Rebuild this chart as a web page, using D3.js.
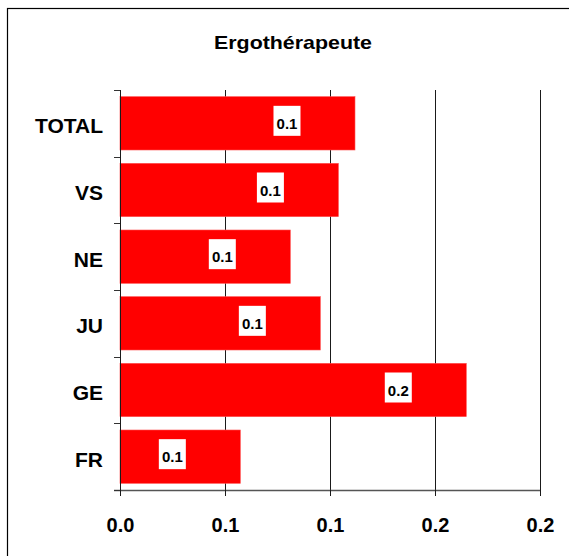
<!DOCTYPE html>
<html>
<head>
<meta charset="utf-8">
<script src="https://cdn.jsdelivr.net/npm/d3@7"></script>
<style>
  html, body { margin: 0; padding: 0; background: #fff; }
  svg { display: block; }
  text { font-family: "Liberation Sans", Arial, sans-serif; font-weight: bold; fill: #000; }
</style>
</head>
<body>
<svg id="chart" width="569" height="556"></svg>
<script>
// Share by canton (Ergothérapeute)
const categories = ["TOTAL", "VS", "NE", "JU", "GE", "FR"];
const values = [0.1119, 0.1040, 0.0811, 0.0954, 0.1649, 0.0573];
const tickValues = [0, 0.05, 0.1, 0.15, 0.2];
const tickLabels = ["0.0", "0.1", "0.1", "0.2", "0.2"];
const title = "Ergothérapeute";

const svg = d3.select("#chart");
const W = 569, H = 556;
const plot = { left: 120, right: 540, top: 90, bottom: 490 };

// Frame around the chart area
svg.append("rect")
  .attr("x", 7.5).attr("y", 8.5)
  .attr("width", W + 20).attr("height", H + 20)
  .attr("fill", "#fff").attr("stroke", "#000").attr("stroke-width", 1.2);

svg.append("text")
  .attr("x", 293).attr("y", 48.5)
  .attr("text-anchor", "middle")
  .attr("font-size", 19)
  .attr("textLength", 158)
  .attr("lengthAdjust", "spacingAndGlyphs")
  .text(title);

const x = d3.scaleLinear().domain([0, 0.2]).range([plot.left, plot.right]);
const y = d3.scaleBand().domain(categories)
  .range([plot.top, plot.bottom])
  .paddingInner(0.2).paddingOuter(0.1);

// Vertical gridlines with their tick marks below the axis
svg.append("g").selectAll("line")
  .data(tickValues.slice(1))
  .join("line")
  .attr("x1", d => Math.round(x(d)) + 0.5).attr("x2", d => Math.round(x(d)) + 0.5)
  .attr("y1", plot.top).attr("y2", plot.bottom + 6)
  .attr("stroke", "#1a1a1a").attr("stroke-width", 1);

// Bars
svg.append("g").selectAll("rect")
  .data(categories.map((c, i) => ({ c, v: values[i] })))
  .join("rect")
  .attr("x", x(0))
  .attr("y", d => y(d.c))
  .attr("width", d => x(d.v) - x(0))
  .attr("height", y.bandwidth())
  .attr("fill", "#ff0000")
  .attr("stroke", "#ff5050").attr("stroke-width", 0.6);

// Horizontal axis
const xAxis = svg.append("g");
xAxis.append("line")
  .attr("x1", plot.left - 6).attr("x2", plot.right)
  .attr("y1", plot.bottom + 0.5).attr("y2", plot.bottom + 0.5)
  .attr("stroke", "#555").attr("stroke-width", 1.5);
xAxis.selectAll("line.tick")
  .data(tickValues)
  .join("line").attr("class", "tick")
  .attr("x1", d => Math.round(x(d)) + 0.5).attr("x2", d => Math.round(x(d)) + 0.5)
  .attr("y1", plot.bottom).attr("y2", plot.bottom + 6)
  .attr("stroke", "#1a1a1a");
xAxis.selectAll("text")
  .data(tickValues)
  .join("text")
  .attr("x", d => x(d) + 0.5)
  .attr("y", 532)
  .attr("text-anchor", "middle")
  .attr("font-size", 20)
  .text((d, i) => tickLabels[i]);

// Vertical axis with ticks at category boundaries
const yAxis = svg.append("g");
yAxis.append("line")
  .attr("x1", plot.left + 0.5).attr("x2", plot.left + 0.5)
  .attr("y1", plot.top).attr("y2", plot.bottom + 6)
  .attr("stroke", "#1a1a1a");
const bounds = categories.map(c => y(c) - y.step() * y.paddingInner() / 2).concat([plot.bottom]);
yAxis.selectAll("line.tick")
  .data(bounds)
  .join("line").attr("class", "tick")
  .attr("x1", plot.left - 6).attr("x2", plot.left)
  .attr("y1", d => Math.round(d) + 0.5).attr("y2", d => Math.round(d) + 0.5)
  .attr("stroke", "#333");
yAxis.selectAll("text")
  .data(categories)
  .join("text")
  .attr("x", 103)
  .attr("y", d => y(d) + y.bandwidth() / 2 + 10)
  .attr("text-anchor", "end")
  .attr("font-size", 21)
  .text(d => d);

// Value labels inside the bar ends
const fmt = d3.format(".1f");
const labels = svg.append("g").selectAll("g")
  .data(categories.map((c, i) => ({ c, v: values[i] })))
  .join("g")
  .attr("transform", d => `translate(${x(d.v) - 68},${y(d.c) + y.bandwidth() / 2})`);
labels.append("rect")
  .attr("x", -13.5).attr("y", -17.5)
  .attr("width", 27).attr("height", 30)
  .attr("fill", "#fff");
labels.append("text")
  .attr("x", 0).attr("y", 5.5)
  .attr("text-anchor", "middle")
  .attr("font-size", 15)
  .text(d => fmt(d.v));
</script>
</body>
</html>
